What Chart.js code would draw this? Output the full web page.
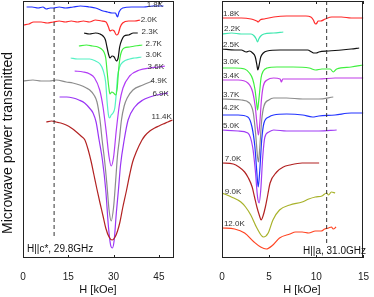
<!DOCTYPE html>
<html>
<head>
<meta charset="utf-8">
<script src="https://cdn.jsdelivr.net/npm/chart.js@4.4.1/dist/chart.umd.min.js"></script>
<style>
  html, body { margin: 0; padding: 0; background: #fff; }
  #wrap { position: relative; width: 374px; height: 297px; }
  #leftChart { position: absolute; left: 0; top: 0; }
  #rightChart { position: absolute; left: 185px; top: 0; }
</style>
</head>
<body>
<div id="wrap">
  <canvas id="leftChart" width="185" height="297"></canvas>
  <canvas id="rightChart" width="189" height="297"></canvas>
</div>
<script>
/********* DATA: H || c*, 29.8 GHz (field in kOe, signal in arb. units) *********/
const tempsC = ["1.8K", "2.0K", "2.3K", "2.7K", "3.0K", "3.6K", "4.9K", "6.9K", "11.4K"];
const ticksC = [0, 15, 30, 45];

const c18x = [1.2, 3, 5, 6.6, 7.7, 9, 10, 12, 14, 16.6, 19, 22, 24, 26.5, 28, 29.5, 30.6, 31.3, 31.8, 33, 36, 40, 43, 46.5];
const c18y = [251, 251, 250, 251, 249, 250, 250, 251, 250, 251, 252, 251, 250, 247, 246, 245, 245, 241, 246, 250, 251, 251, 252, 252];

const c20x = [0.3, 2, 3.5, 6, 8, 10, 12, 14, 16, 18, 20, 22, 24, 26, 27.5, 28.3, 28.8, 29.5, 30.2, 30.9, 31.5, 32.2, 33, 35, 37, 38.8];
const c20y = [233, 234, 236, 236, 235, 236, 237, 236, 237, 236, 237, 236, 238, 237, 236, 231, 227, 228, 227, 223, 224, 231, 235, 237, 237, 238];

const c23x = [20.2, 22, 24, 25.5, 26.5, 27.3, 27.8, 28.3, 28.8, 29.5, 30.2, 30.9, 31.5, 32, 32.7, 33.5, 35, 36.5, 38];
const c23y = [225, 224, 225, 224, 222, 218, 211, 204, 200, 202, 201, 197, 200, 211, 218, 222, 223, 225, 225];

const c27x = [18.5, 21, 23, 24.8, 26, 26.8, 27.4, 27.9, 28.4, 28.8, 29.4, 30, 30.7, 31.2, 31.6, 32.1, 32.7, 33.5, 35.3, 37, 39.5];
const c27y = [212, 213, 212, 211, 209, 206, 200, 185, 171, 164, 166, 165, 163, 170, 186, 200, 207, 210, 211, 212, 213];

const c30x = [15.8, 18, 20, 22.1, 24, 25.5, 26.5, 27.4, 27.8, 28.3, 28.7, 29.2, 29.8, 30.4, 30.9, 31.3, 32, 33.1, 35.3, 37, 39.2];
const c30y = [200, 199, 199, 199, 197, 194, 188, 175, 158, 143, 140, 143, 145, 150, 165, 181, 191, 196, 199, 200, 201];

const c36x = [17.1, 19.9, 22.1, 23.7, 25.4, 26.5, 27.6, 28.5, 29.2, 30, 30.9, 32, 33.1, 35.3, 38.6, 41.9, 45, 47];
const c36y = [187, 186, 184, 180, 168, 151, 125, 101, 92, 101, 128, 155, 170, 182, 188, 190, 191, 192];

const c49x = [0, 3.3, 6, 8.8, 11, 14.3, 16.5, 18.8, 21, 22.1, 23.5, 24.5, 25.5, 26.2, 27, 27.8, 28.5, 29.2, 30, 30.7, 31.3, 31.9, 32.6, 33.5, 34.5, 36.4, 39.7, 43];
const c49y = [177, 178, 177, 177, 178, 176, 175, 173, 170, 168, 163, 156, 138, 118, 98, 73, 48, 37, 51, 78, 103, 118, 138, 152, 160, 168, 173, 177];

const c69x = [12.1, 14.5, 16.6, 18.5, 20.4, 22, 23.2, 24.2, 25.2, 26.3, 27.4, 28.3, 29, 29.6, 30.2, 30.9, 31.6, 32.3, 33.5, 34.8, 37, 39.7, 42, 44.2, 46, 48];
const c69y = [161, 161, 160, 158, 155, 150, 145, 136, 118, 98, 68, 31, 13, 10, 18, 45, 68, 93, 118, 138, 151, 158, 161, 163, 164, 165];

const c114x = [7.7, 9.5, 11, 12.5, 14.3, 16, 17.7, 19.2, 20.5, 21.6, 22.6, 23.5, 24.4, 25.5, 26.5, 27.4, 28.5, 29.5, 30.5, 31.3, 32.1, 33, 34.3, 35.3, 36.3, 37.5, 39.4, 40.3, 42, 43.6, 45, 46.4, 48, 49.5];
const c114y = [136, 137, 136, 135, 133, 130, 126, 122, 118, 108, 96, 83, 70, 55, 42, 30, 21, 18, 21, 27, 36, 50, 68, 83, 96, 106, 118, 122, 127, 130, 132, 134, 136, 138];

const dashC = 10.3;

/********* DATA: H || a, 31.0 GHz *********/
const tempsA = ["1.8K", "2.2K", "2.5K", "3.0K", "3.4K", "3.7K", "4.2K", "5.0K", "7.0K", "9.0K", "12.0K"];
const ticksA = [0, 5, 10, 15];

const a18x = [0, 1.03, 2.05, 3.08, 3.42, 3.7, 3.84, 4.04, 4.45, 5.48, 6.85, 7.88, 8.9, 9.42, 9.69, 9.83, 9.93, 10.07, 10.2, 10.45, 10.96, 11.64, 12.67, 13.7, 15];
const a18y = [240, 240, 240, 239, 238, 237, 236, 238, 239, 241, 242, 242, 242, 241, 238, 235, 234, 235, 237, 237, 239, 241, 241, 240, 240];

const a22x = [0, 1.03, 2.05, 3.08, 3.42, 3.63, 3.77, 3.9, 4.11, 4.45, 5.48, 6.5];
const a22y = [224, 225, 224, 224, 222, 219, 216, 219, 222, 224, 225, 226];

const a25x = [0, 1.37, 2.05, 2.57, 2.91, 3.25, 3.53, 3.7, 3.8, 3.94, 4.11, 4.38, 4.79, 6.16, 7.88, 9.08, 9.52, 9.76, 10, 10.27, 11.3, 12.67, 13.7, 14.55];
const a25y = [209, 208, 208, 206, 207, 205, 201, 193, 188, 193, 201, 205, 207, 208, 208, 208, 206, 205, 205, 206, 207, 208, 209, 210];

const a30x = [0, 1.37, 2.4, 2.91, 3.25, 3.49, 3.66, 3.77, 3.87, 4.01, 4.14, 4.38, 4.79, 5.82, 7.53, 9.25, 9.93, 10.6, 11.47, 11.8, 12.16, 13.7, 15];
const a30y = [190, 190, 189, 185, 179, 169, 156, 148, 155, 168, 180, 187, 190, 191, 191, 190, 188, 189, 189, 186, 189, 191, 193];

const a34x = [0, 1.71, 2.74, 3.25, 3.53, 3.7, 3.87, 4.01, 4.18, 4.38, 4.79, 5.48, 6.16, 6.3, 6.44, 8.56, 10.27, 11.99, 15];
const a34y = [178, 178, 175, 166, 151, 135, 123, 135, 158, 172, 178, 180, 179, 176, 179, 179, 179, 180, 180];

const a37x = [0, 2.05, 2.91, 3.32, 3.56, 3.77, 3.87, 4.01, 4.21, 4.45, 4.97, 5.48, 6.85, 8.56, 10.27, 11.8];
const a37y = [159, 158, 155, 145, 125, 101, 96, 111, 138, 152, 158, 160, 160, 159, 159, 161];

const a42x = [0, 1.71, 2.74, 3.18, 3.49, 3.7, 3.84, 4.01, 4.21, 4.45, 4.97, 5.48, 6.85, 8.56, 9.59, 10.27, 11.99, 13.7, 15];
const a42y = [143, 143, 141, 131, 111, 85, 71, 88, 118, 135, 141, 143, 144, 143, 141, 142, 143, 145, 145];

const a50x = [0, 1.71, 2.74, 3.25, 3.53, 3.77, 3.94, 4.11, 4.32, 4.55, 4.97, 5.48, 6.85, 10.27, 12.16];
const a50y = [128, 127, 125, 111, 88, 61, 55, 68, 101, 121, 126, 128, 127, 127, 128];

const a70x = [0, 1.2, 1.8, 2.4, 2.8, 3.2, 3.45, 3.7, 3.95, 4.15, 4.35, 4.6, 4.85, 5.1, 5.8, 6.5, 7.2, 8.5, 9.5, 10.3];
const a70y = [95, 94, 91, 86, 80, 71, 61, 51, 43, 38, 42, 51, 63, 75, 86, 91, 93, 95, 95, 95];

const a90x = [0, 1.0, 2.0, 2.5, 3.05, 3.7, 4.4, 4.9, 5.4, 6.1, 7.2, 8.5, 9.2, 9.9, 10.6, 11.1, 11.3, 11.6, 12.0];
const a90y = [65, 61, 56, 51, 43, 30, 21, 25, 38, 48, 53, 56, 59, 61, 62, 65, 63, 66, 65];

const a120x = [0, 1.34, 2.4, 3.4, 4.1, 4.7, 5.4, 6.1, 7.2, 7.8, 8.5, 9.2, 9.9, 10.5, 10.9, 11.3, 11.6, 11.8, 12.1];
const a120y = [30, 29, 25, 16, 11, 9, 13, 20, 24, 26, 26, 25, 27, 27, 29, 30, 31, 29, 31];

const dashA = 11.1;

/********* helpers *********/
const pts = (xs, ys) => xs.map((x, i) => ({ x: x, y: ys[i] }));

const line = (label, xs, ys, color) => ({
  label: label,
  data: pts(xs, ys),
  borderColor: color,
  borderWidth: 1.2,
  pointRadius: 0,
  cubicInterpolationMode: "monotone",
  fill: false,
});

const dashLine = (x, yTop, yBottom) => ({
  label: "dash",
  data: [{ x: x, y: yTop }, { x: x, y: yBottom }],
  borderColor: "#333",
  borderWidth: 1,
  borderDash: [4, 3],
  pointRadius: 0,
});

// frame, inward ticks, curve labels and titles
const decor = (opts) => ({
  id: "decor",
  afterDraw(chart) {
    const c = chart.ctx;
    const a = chart.chartArea;
    const xs = chart.scales.x;
    const ys = chart.scales.y;
    c.save();
    c.strokeStyle = "#222";
    c.lineWidth = 1;
    c.strokeRect(Math.round(a.left) + 0.5, Math.round(a.top) + 0.5, Math.round(a.width) - 1, Math.round(a.height) - 1);
    c.beginPath();
    opts.ticks.forEach((t) => {
      const px = Math.round(xs.getPixelForValue(t)) + 0.5;
      c.moveTo(px, a.bottom);
      c.lineTo(px, a.bottom - 3);
      c.moveTo(px, a.top);
      c.lineTo(px, a.top + 3);
    });
    c.stroke();

    c.fillStyle = "#333";
    c.font = "8px 'Liberation Sans', Arial, sans-serif";
    c.textBaseline = "middle";
    c.textAlign = opts.labelAlign;
    opts.temps.forEach((t, i) => {
      c.fillText(t, xs.getPixelForValue(opts.labelX[i]), ys.getPixelForValue(opts.labelY[i]));
    });

    c.fillStyle = "#111";
    c.font = "10px 'Liberation Sans', Arial, sans-serif";
    c.textAlign = opts.noteAlign;
    c.fillText(opts.note, opts.noteX, opts.noteY);

    c.font = "11px 'Liberation Sans', Arial, sans-serif";
    c.textAlign = "center";
    c.fillText("H [kOe]", opts.titleX, 290);

    if (opts.yTitle) {
      c.translate(8, 143);
      c.rotate(-Math.PI / 2);
      c.font = "14px 'Liberation Sans', Arial, sans-serif";
      c.fillText(opts.yTitle, 0, 0);
    }
    c.restore();
  },
});

const makeOptions = (xMax, tickValues, padLeft, padRight) => ({
  responsive: false,
  animation: false,
  layout: { padding: { left: padLeft, right: padRight, top: 1, bottom: 0 } },
  plugins: { legend: { display: false }, tooltip: { enabled: false } },
  scales: {
    x: {
      type: "linear",
      min: 0,
      max: xMax,
      grid: { display: false },
      border: { display: false },
      ticks: {
        padding: 5,
        color: "#222",
        font: { size: 10, family: "'Liberation Sans', Arial, sans-serif" },
      },
      afterBuildTicks: (axis) => {
        axis.ticks = tickValues.map((v) => ({ value: v }));
      },
      afterFit: (axis) => { axis.height = 39; },
    },
    y: { display: false, min: 0, max: 257 },
  },
});

/********* LEFT PANEL *********/
new Chart(document.getElementById("leftChart"), {
  type: "line",
  data: {
    datasets: [
      dashLine(dashC, 257, 22),
      line(tempsC[0], c18x, c18y, "#1f2fff"),
      line(tempsC[1], c20x, c20y, "#ff2a2a"),
      line(tempsC[2], c23x, c23y, "#111111"),
      line(tempsC[3], c27x, c27y, "#3ff03f"),
      line(tempsC[4], c30x, c30y, "#55f2c4"),
      line(tempsC[5], c36x, c36y, "#b23cf5"),
      line(tempsC[6], c49x, c49y, "#8c8c8c"),
      line(tempsC[8], c114x, c114y, "#b22222"),
      line(tempsC[7], c69x, c69y, "#9a35f5"),
    ],
  },
  options: makeOptions(50, ticksC, 23, 11),
  plugins: [decor({
    ticks: ticksC,
    temps: tempsC,
    labelAlign: "right",
    labelX: [46.4, 44.4, 44.7, 46, 46, 46.7, 47.7, 48.3, 49.3],
    labelY: [253, 238, 226, 214, 203, 191, 177, 164, 141],
    note: "H||c*, 29.8GHz",
    noteAlign: "left",
    noteX: 27,
    noteY: 249,
    titleX: 98,
    yTitle: "Microwave power transmitted",
  })],
});

/********* RIGHT PANEL *********/
new Chart(document.getElementById("rightChart"), {
  type: "line",
  data: {
    datasets: [
      dashLine(dashA, 257, 12),
      line(tempsA[0], a18x, a18y, "#ff2a2a"),
      line(tempsA[1], a22x, a22y, "#40e8b0"),
      line(tempsA[2], a25x, a25y, "#111111"),
      line(tempsA[3], a30x, a30y, "#3ff03f"),
      line(tempsA[4], a34x, a34y, "#c03ce8"),
      line(tempsA[5], a37x, a37y, "#8c8c8c"),
      line(tempsA[6], a42x, a42y, "#2233ff"),
      line(tempsA[7], a50x, a50y, "#a03cf5"),
      line(tempsA[8], a70x, a70y, "#b22222"),
      line(tempsA[9], a90x, a90y, "#a8b22a"),
      line(tempsA[10], a120x, a120y, "#ff4422"),
    ],
  },
  options: makeOptions(15, ticksA, 37, 6),
  plugins: [decor({
    ticks: ticksA,
    temps: tempsA,
    labelAlign: "left",
    labelX: [0.1, 0.2, 0.1, 0.1, 0.1, 0.1, 0.1, 0.1, 0.3, 0.3, 0.2],
    labelY: [244, 229, 213, 196, 182, 163, 150, 132, 99, 66, 34],
    note: "H||a, 31.0GHz",
    noteAlign: "right",
    noteX: 181,
    noteY: 251,
    titleX: 117,
  })],
});
</script>
</body>
</html>
